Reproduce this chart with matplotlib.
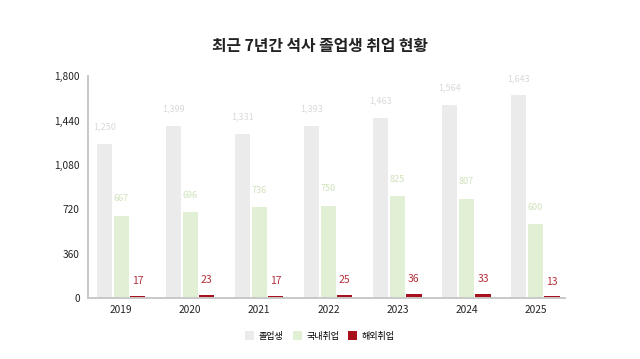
import matplotlib.pyplot as plt
import numpy as np

plt.rcParams['font.family'] = ['Noto Sans CJK KR', 'DejaVu Sans']

years = ['2019', '2020', '2021', '2022', '2023', '2024', '2025']
graduates = [1250, 1399, 1331, 1393, 1463, 1564, 1643]
domestic = [667, 696, 736, 750, 825, 807, 600]
overseas = [17, 23, 17, 25, 36, 33, 13]
series_names = ['졸업생', '국내취업', '해외취업']

c_grad = '#ebebeb'
c_dom = '#e1efd4'
c_ovs = '#a8101c'

fig = plt.figure(figsize=(6.4, 3.59), dpi=100)
ax = fig.add_axes([0.1375, 0.170, 0.883 - 0.1375, 0.618])

x = np.arange(len(years))
w = 0.22
off = 0.24
b1 = ax.bar(x - off, graduates, w, color=c_grad, label=series_names[0])
b2 = ax.bar(x, domestic, w, color=c_dom, label=series_names[1])
b3 = ax.bar(x + off, overseas, w, color=c_ovs, label=series_names[2])

for xi, v in zip(x, graduates):
    ax.annotate(f'{v:,}', (xi - off, v), xytext=(0, 9), textcoords='offset points',
                ha='center', va='bottom', fontsize=6.5, color='#d9d9d9')
for xi, v in zip(x, domestic):
    ax.annotate(f'{v:,}', (xi, v), xytext=(0, 9), textcoords='offset points',
                ha='center', va='bottom', fontsize=6.5, color='#cfe2bb')
for xi, v in zip(x, overseas):
    ax.annotate(f'{v:,}', (xi + off, v), xytext=(0, 7), textcoords='offset points',
                ha='center', va='bottom', fontsize=7.5, color='#b3303a', fontweight='medium')

ax.set_xlim(-0.48, 6.43)
ax.set_ylim(0, 1800)
ax.set_yticks([0, 360, 720, 1080, 1440, 1800])
ax.set_yticklabels([f'{t:,}' for t in [0, 360, 720, 1080, 1440, 1800]])
ax.set_xticks(x)
ax.set_xticklabels(years, fontweight='medium')
ax.tick_params(axis='both', length=0, labelsize=7.3, colors='#222222', pad=5)
ax.tick_params(axis='y', pad=6)

for s in ['top', 'right']:
    ax.spines[s].set_visible(False)
for s in ['left', 'bottom']:
    ax.spines[s].set_color('#c8c8c8')
    ax.spines[s].set_linewidth(1.4)

fig.text(0.5, 0.872, '최근 7년간 석사 졸업생 취업 현황', ha='center', va='center',
         fontsize=11.4, fontweight='bold', color='#222222')

fig.legend(handles=[b1, b2, b3], labels=series_names, loc='center',
           bbox_to_anchor=(0.5, 0.064), ncol=3, frameon=False, fontsize=6.5,
           handlelength=1.0, handleheight=1.0, handletextpad=0.5, columnspacing=1.0)

fig.savefig('out.png', dpi=100)
